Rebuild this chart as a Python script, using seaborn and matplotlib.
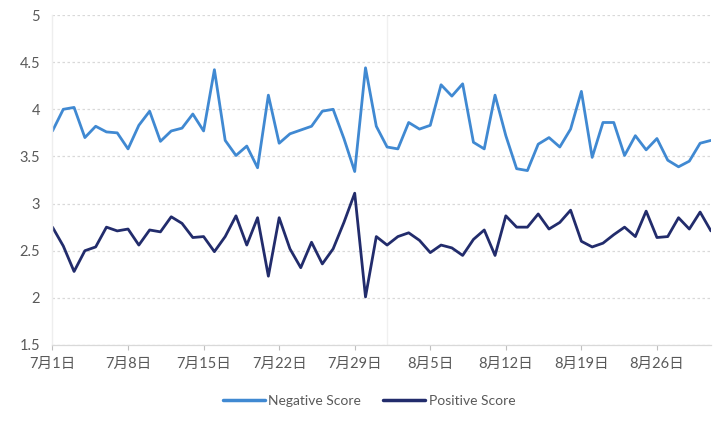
import matplotlib
matplotlib.use('Agg')
import matplotlib.pyplot as plt
from matplotlib.lines import Line2D
import seaborn as sns
import pandas as pd
import numpy as np

# ---- data ----
dates = pd.date_range('2024-07-01', '2024-08-31', freq='D')

negative_score = [3.77, 4.00, 4.02, 3.70, 3.82, 3.76, 3.75, 3.58, 3.83, 3.98,
                  3.66, 3.77, 3.80, 3.95, 3.77, 4.42, 3.67, 3.51, 3.61, 3.38,
                  4.15, 3.64, 3.74, 3.78, 3.82, 3.98, 4.00, 3.69, 3.34, 4.44,
                  3.82, 3.60, 3.58, 3.86, 3.79, 3.83, 4.26, 4.14, 4.27, 3.65,
                  3.58, 4.15, 3.72, 3.37, 3.35, 3.63, 3.70, 3.60, 3.79, 4.19,
                  3.49, 3.86, 3.86, 3.51, 3.72, 3.57, 3.69, 3.46, 3.39, 3.45,
                  3.64, 3.67]

positive_score = [2.75, 2.55, 2.28, 2.50, 2.54, 2.75, 2.71, 2.73, 2.56, 2.72,
                  2.70, 2.86, 2.79, 2.64, 2.65, 2.49, 2.65, 2.87, 2.56, 2.85,
                  2.23, 2.85, 2.52, 2.32, 2.59, 2.36, 2.52, 2.80, 3.11, 2.01,
                  2.65, 2.56, 2.65, 2.69, 2.61, 2.48, 2.56, 2.53, 2.45, 2.62,
                  2.72, 2.45, 2.87, 2.75, 2.75, 2.89, 2.73, 2.80, 2.93, 2.60,
                  2.54, 2.58, 2.67, 2.75, 2.65, 2.92, 2.64, 2.65, 2.85, 2.73,
                  2.91, 2.71]

series_names = ['Negative Score', 'Positive Score']
series_colors = ['#4089d2', '#222c6c']

tick_dates = ['2024-07-01', '2024-07-08', '2024-07-15', '2024-07-22', '2024-07-29',
              '2024-08-05', '2024-08-12', '2024-08-19', '2024-08-26']
tick_labels = ['7月1日', '7月8日', '7月15日', '7月22日', '7月29日',
               '8月5日', '8月12日', '8月19日', '8月26日']
y_ticks = [1.5, 2, 2.5, 3, 3.5, 4, 4.5, 5]
y_tick_labels = ['1.5', '2', '2.5', '3', '3.5', '4', '4.5', '5']

# ---- style ----
sns.set_theme(style='white')
plt.rcParams['font.family'] = ['Lato', 'Noto Sans CJK SC', 'DejaVu Sans']

fig = plt.figure(figsize=(7.21, 4.23), dpi=100)
ax = fig.add_axes([0.0728, 0.1844, 0.9132, 0.7801])

df = pd.DataFrame({'date': dates,
                   series_names[0]: negative_score,
                   series_names[1]: positive_score})
long_df = df.melt(id_vars='date', var_name='series', value_name='score')

sns.lineplot(data=long_df, x='date', y='score', hue='series',
             palette=dict(zip(series_names, series_colors)),
             linewidth=2.0, ax=ax, legend=False)

ax.set_xlim(dates[0], dates[-1])
ax.set_ylim(1.5, 5)
ax.set_yticks(y_ticks)
ax.set_yticklabels(y_tick_labels)
ax.set_xticks(pd.to_datetime(tick_dates))
ax.set_xticklabels(tick_labels)
ax.set_xlabel('')
ax.set_ylabel('')

ax.yaxis.grid(True, color='#d9d9d9', linestyle=(0, (2, 2)), linewidth=0.9)
ax.xaxis.grid(False)
ax.set_axisbelow(True)

# faint vertical line present in the reference
ax.axvline(pd.Timestamp('2024-08-01'), color='#f0f0f0', linewidth=1.0, zorder=0)

for s in ['top', 'right']:
    ax.spines[s].set_visible(False)
ax.spines['left'].set_color('#eeeeee')
ax.spines['left'].set_linewidth(1.0)
ax.spines['bottom'].set_color('#d9d9d9')
ax.spines['bottom'].set_linewidth(0.9)

ax.tick_params(axis='y', length=0, pad=9, labelsize=10.5, labelcolor='#595959')
ax.tick_params(axis='x', length=3.5, width=0.8, color='#bfbfbf', pad=5,
               labelsize=10.5, labelcolor='#595959', bottom=True)

handles = [Line2D([0], [0], color=c, linewidth=2.5) for c in series_colors]
fig.legend(handles, series_names, loc='center', bbox_to_anchor=(0.512, 0.052),
           ncol=2, frameon=False, fontsize=10, handlelength=3.0,
           handletextpad=0.25, columnspacing=1.6, labelcolor='#595959')

fig.savefig('out.png', dpi=100)
